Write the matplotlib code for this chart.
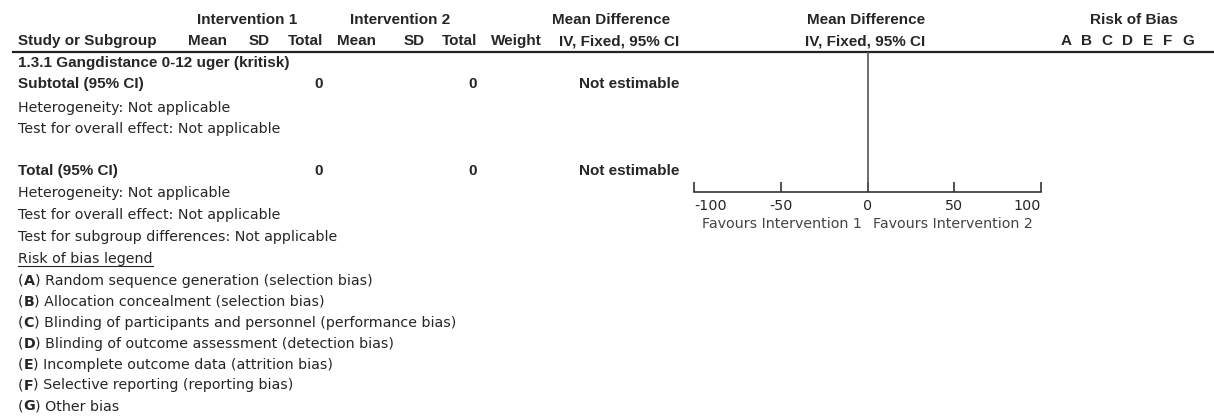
import matplotlib
matplotlib.use('Agg')
import matplotlib.pyplot as plt

plt.rcParams['font.family'] = ['DejaVu Sans']

# chart data
group_headers = ['Intervention 1', 'Intervention 2']
col_headers = ['Mean', 'SD', 'Total', 'Mean', 'SD', 'Total', 'Weight']
md_header = ['Mean Difference', 'IV, Fixed, 95% CI']
subgroup_name = '1.3.1 Gangdistance 0-12 uger (kritisk)'
subtotal_n = [0, 0]
total_n = [0, 0]
estimate_text = 'Not estimable'
subtotal_notes = ['Heterogeneity: Not applicable',
                  'Test for overall effect: Not applicable']
total_notes = ['Heterogeneity: Not applicable',
               'Test for overall effect: Not applicable',
               'Test for subgroup differences: Not applicable']
bias_letters = ['A', 'B', 'C', 'D', 'E', 'F', 'G']
bias_desc = ['Random sequence generation (selection bias)',
             'Allocation concealment (selection bias)',
             'Blinding of participants and personnel (performance bias)',
             'Blinding of outcome assessment (detection bias)',
             'Incomplete outcome data (attrition bias)',
             'Selective reporting (reporting bias)',
             'Other bias']
axis_ticks = [-100, -50, 0, 50, 100]
favours = ['Favours Intervention 1', 'Favours Intervention 2']

W, H = 1214, 418
fig = plt.figure(figsize=(W / 100, H / 100), dpi=100)
ax = fig.add_axes([0, 0, 1, 1])
ax.set_xlim(0, W)
ax.set_ylim(H, 0)
ax.axis('off')

txt = '#262626'
fs = 10.3          # regular text
fsb = 11.0         # bold text
bold_font = ['Liberation Sans', 'DejaVu Sans']

def t(x, y, s, ha='left', bold=False, **kw):
    if bold:
        return ax.text(x, y, s, ha=ha, va='center', color=txt, fontsize=fsb,
                       fontweight='bold', family=bold_font, **kw)
    return ax.text(x, y, s, ha=ha, va='center', color=txt, fontsize=fs, **kw)

# header
t(247, 20, group_headers[0], ha='center', bold=True)
t(400, 20, group_headers[1], ha='center', bold=True)
t(611, 20, md_header[0], ha='center', bold=True)
t(866, 20, md_header[0], ha='center', bold=True)
t(1134, 20, 'Risk of Bias', ha='center', bold=True)

t(18, 41, 'Study or Subgroup', bold=True)
col_x = [227, 270, 323, 376, 425, 477, 542]
for x, s in zip(col_x, col_headers):
    t(x, 41, s, ha='right', bold=True)
t(679, 41, md_header[1], ha='right', bold=True)
t(865, 41, md_header[1], ha='center', bold=True)
for i, b in enumerate(bias_letters):
    t(1066 + i * 20.4, 41, b, ha='center', bold=True)

ax.plot([13, W], [51.5, 51.5], color='#222222', lw=1.6)

# subgroup
t(18, 63, subgroup_name, bold=True)
t(18, 84, 'Subtotal (95% CI)', bold=True)
t(323, 84, str(subtotal_n[0]), ha='right', bold=True)
t(477, 84, str(subtotal_n[1]), ha='right', bold=True)
t(679, 84, estimate_text, ha='right', bold=True)
for i, s in enumerate(subtotal_notes):
    t(18, 108 + i * 21, s)

# total
t(18, 171, 'Total (95% CI)', bold=True)
t(323, 171, str(total_n[0]), ha='right', bold=True)
t(477, 171, str(total_n[1]), ha='right', bold=True)
t(679, 171, estimate_text, ha='right', bold=True)
for i, s in enumerate(total_notes):
    t(18, 193 + i * 21.8, s)

leg = t(18, 258.5, 'Risk of bias legend')
fig.canvas.draw()
bb = leg.get_window_extent().transformed(ax.transData.inverted())
ax.plot([bb.x0, bb.x1], [265.5, 265.5], color=txt, lw=0.8)

for i, (b, s) in enumerate(zip(bias_letters, bias_desc)):
    y = 281 + i * 20.9
    p = t(18, y, '(')
    lt = ax.annotate(b, xy=(1, 0.5), xycoords=p, va='center', ha='left',
                     color=txt, fontsize=fs, fontweight='bold')
    ax.annotate(') ' + s, xy=(1, 0.5), xycoords=lt, va='center', ha='left',
                color=txt, fontsize=fs)

# forest axis
x0, x1, ytop, ybot = 694, 1041, 52, 192
fax = fig.add_axes([x0 / W, 1 - ybot / H, (x1 - x0) / W, (ybot - ytop) / H])
fax.set_xlim(axis_ticks[0], axis_ticks[-1])
fax.set_ylim(0, 1)
fax.patch.set_visible(False)
for sp in ['top', 'left', 'right']:
    fax.spines[sp].set_visible(False)
fax.spines['bottom'].set_color('#333333')
fax.spines['bottom'].set_linewidth(1.2)
fax.axvline(0, color='#555555', lw=1.2)
fax.set_yticks([])
fax.set_xticks(axis_ticks)
fax.set_xticklabels([str(v) for v in axis_ticks])
fax.tick_params(axis='x', direction='in', length=7, width=1.2, color='#333333',
                labelsize=fs, labelcolor=txt, pad=5)
labels = fax.get_xticklabels()
labels[0].set_horizontalalignment('left')
labels[-1].set_horizontalalignment('right')
fax.text(-3, -0.23, favours[0], ha='right', va='center', fontsize=fs, color='#444444')
fax.text(3, -0.23, favours[1], ha='left', va='center', fontsize=fs, color='#444444')

fig.savefig('out.png', dpi=100)
